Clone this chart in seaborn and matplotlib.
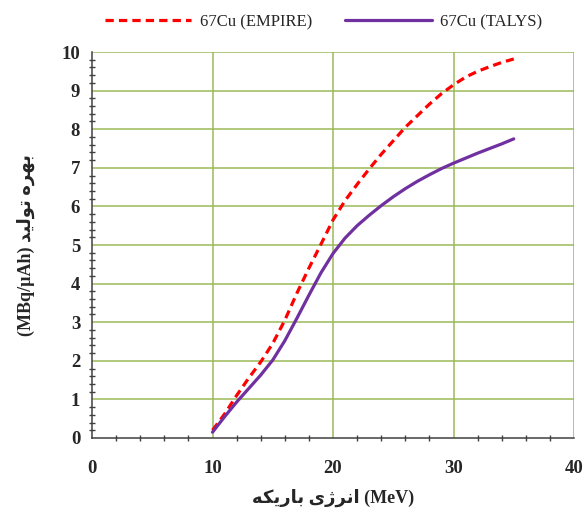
import matplotlib
matplotlib.use("Agg")
import matplotlib.pyplot as plt
import seaborn as sns
import pandas as pd
from matplotlib.ticker import MultipleLocator
from matplotlib.lines import Line2D

energy = [10, 11, 12, 13, 14, 15, 16, 17, 18, 19, 20, 21, 22, 23, 24, 25,
          26, 27, 28, 29, 30, 31, 32, 33, 34, 35]
empire = [0.20, 0.62, 1.10, 1.55, 1.97, 2.45, 3.05, 3.75, 4.40, 5.02, 5.65,
          6.15, 6.57, 6.97, 7.35, 7.70, 8.05, 8.35, 8.65, 8.92, 9.15, 9.35,
          9.50, 9.62, 9.73, 9.82]
talys = [0.15, 0.55, 0.93, 1.28, 1.63, 2.02, 2.52, 3.10, 3.70, 4.28, 4.78,
         5.18, 5.50, 5.77, 6.02, 6.25, 6.46, 6.65, 6.82, 6.98, 7.12, 7.25,
         7.38, 7.50, 7.62, 7.75]
series_names = ["67Cu (EMPIRE)", "67Cu (TALYS)"]
xticks = [0, 10, 20, 30, 40]
yticks = list(range(0, 11))

# Persian labels in visual (presentation-form) order
w_bahre = "\uFEE9\uFEAE\uFEEC\uFE91"
w_tavlid = "\uFEAA\uFEF4\uFEDF\uFEEE\uFE97"
w_enerzhi = "\uFBFC\uFB8A\uFEAE\uFEE7\uFE8D"
w_barike = "\uFEEA\uFB91\uFEF3\uFEAD\uFE8E\uFE91"
ylabel = "(MBq/\u00b5Ah) " + w_tavlid + " " + w_bahre
xlabel = w_barike + " " + w_enerzhi + " (MeV)"

df = pd.DataFrame({"E": energy * 2,
                   "Y": empire + talys,
                   "S": [series_names[0]] * len(energy) + [series_names[1]] * len(energy)})

sns.set_style("white")
plt.rcParams["font.family"] = ["Liberation Serif", "DejaVu Sans"]

fig = plt.figure(figsize=(5.83, 5.08), dpi=100)
ax = fig.add_axes([0.1578, 0.1378, 0.9846 - 0.1578, 0.8976 - 0.1378])

grid_c = "#9BBB59"
for v in yticks[1:]:
    ax.axhline(v, color=grid_c, lw=1.1, zorder=0)
for v in xticks[1:]:
    ax.axvline(v, color=grid_c, lw=1.1, zorder=0)

sns.lineplot(data=df, x="E", y="Y", hue="S", style="S",
             palette={series_names[0]: "#FF0000", series_names[1]: "#7030A0"},
             dashes={series_names[0]: (2.6, 1.6), series_names[1]: ""},
             linewidth=2.3, ax=ax, legend=False, zorder=3)

ax.set_xlim(0, 40)
ax.set_ylim(0, 10)
ax.set_xticks(xticks)
ax.set_yticks(yticks)
ax.xaxis.set_minor_locator(MultipleLocator(2))
ax.yaxis.set_minor_locator(MultipleLocator(0.2))
ax.tick_params(which="major", direction="inout", length=9, width=1.1, color="#404040",
               labelsize=13.5, pad=4)
ax.tick_params(axis="x", which="major", pad=11)
ax.tick_params(which="minor", direction="inout", length=5, width=1.0, color="#404040",
               left=True, bottom=True)
for lab in ax.get_xticklabels() + ax.get_yticklabels():
    lab.set_fontweight("bold")

for s in ["top", "right"]:
    ax.spines[s].set_visible(False)
for s in ["left", "bottom"]:
    ax.spines[s].set_color("#404040")
    ax.spines[s].set_linewidth(1.1)

ax.set_xlabel(xlabel, fontsize=13, fontweight="bold", labelpad=9)
ax.set_ylabel(ylabel, fontsize=13, fontweight="bold", labelpad=19)

handles = [Line2D([], [], color="#FF0000", lw=2.3, dashes=(2.6, 1.6)),
           Line2D([], [], color="#7030A0", lw=2.3)]
fig.legend(handles, series_names, loc="center", ncol=2,
           bbox_to_anchor=(0.555, 1 - 22 / 508), frameon=False,
           prop={"family": "Liberation Serif", "size": 12},
           handlelength=5.2, columnspacing=2.0, handletextpad=0.5)

fig.savefig("out.png", dpi=100)
